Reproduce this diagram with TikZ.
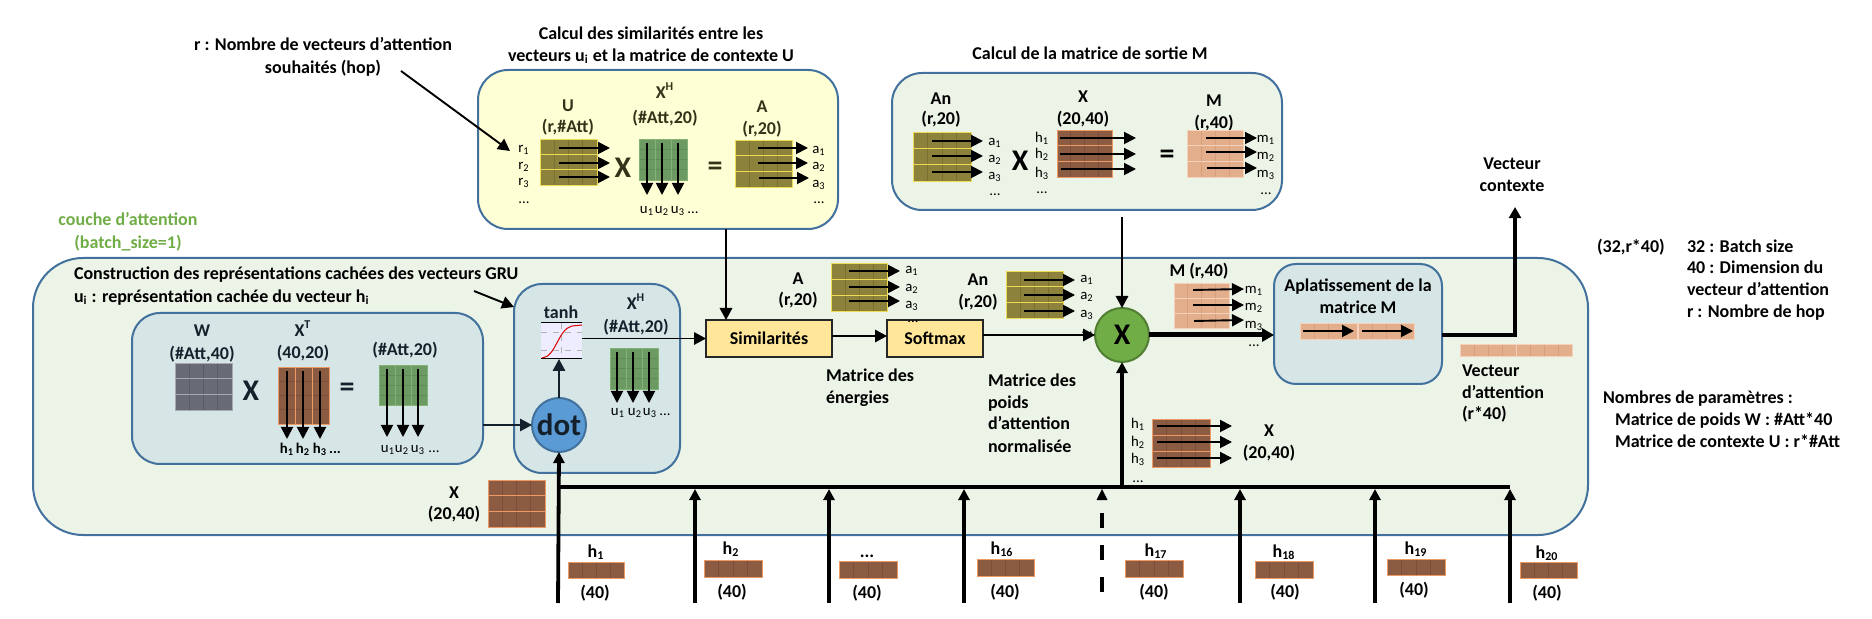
\documentclass[tikz,border=0pt]{standalone}
\usepackage{fontspec}
\setmainfont{Carlito}
\usetikzlibrary{arrows.meta,calc}
\definecolor{boxedge}{HTML}{41719C}
\definecolor{outerfill}{HTML}{ECF3E7}
\definecolor{yellowfill}{HTML}{FFFFD6}
\definecolor{tealfill}{HTML}{D6E5E5}
\definecolor{procfill}{HTML}{FFE699}
\definecolor{darkolive}{HTML}{33331A}
\definecolor{darknavy}{HTML}{14212C}
\definecolor{attgreen}{HTML}{70AD47}
\definecolor{xedge}{HTML}{507E32}
\definecolor{dotblue}{HTML}{5B9BD5}
\definecolor{gf}{HTML}{6C9A62}\definecolor{ge}{HTML}{82B374}\definecolor{gl}{HTML}{5F8C56}
\definecolor{of}{HTML}{8C823C}\definecolor{oe}{HTML}{EBDB55}\definecolor{ol}{HTML}{786F30}
\definecolor{bf}{HTML}{8C5C42}\definecolor{be}{HTML}{EE9A66}\definecolor{bl}{HTML}{7A4E38}
\definecolor{kf}{HTML}{686A76}\definecolor{ke}{HTML}{A6A8B4}\definecolor{kl}{HTML}{585A64}
\definecolor{pf}{HTML}{E3AE8C}\definecolor{pe}{HTML}{F6D2BA}\definecolor{pl}{HTML}{D89E7A}
\newcounter{txn}\newcounter{arn}
\tikzset{
  txt/.style={inner sep=0pt,outer sep=0pt,yshift=-1.3pt,font=\fontsize{9}{11}\selectfont\bfseries,text height=5.6pt,text depth=1.6pt},
  small/.style={yshift=.5pt,font=\fontsize{7.4}{9}\selectfont},
  smallb/.style={yshift=.5pt,font=\fontsize{7.4}{9}\selectfont\bfseries},
  big/.style={font=\fontsize{15}{17}\selectfont\bfseries,text height=9.5pt,text depth=0pt},
  roundbox/.style={draw=boxedge,line width=1pt,inner sep=0pt,outer sep=0pt},
  proc/.style={draw=black!85,fill=procfill,line width=.9pt,inner sep=0pt,outer sep=0pt,font=\fontsize{9}{11}\selectfont\bfseries},
  conn/.style={line width=.95pt,-{Triangle[length=6pt,width=6.2pt]}},
  matarrow/.style={line width=.95pt,black,-{Triangle[length=6pt,width=6pt]}},
  bus/.style={line width=1.9pt,-{Triangle[length=5.6pt,width=5.6pt]}},
  busline/.style={line width=1.9pt},
}
\newcommand\tx[4][]{\stepcounter{txn}\node[txt,#1] (t\arabic{txn}) at (#2,#3) {#4};}
\newcommand\txl[4][]{\stepcounter{txn}\node[txt,anchor=west,#1] (t\arabic{txn}) at (#2,#3) {#4};}
\newcommand\rbox[7]{\pgfmathsetmacro\bw{(#4-#2)*.5}\pgfmathsetmacro\bh{(#5-#3)*.5}%
  \node[roundbox,fill=#6,rounded corners=#7,minimum width=\bw pt,minimum height=\bh pt] (#1) at ({(#2+#4)/2},{(#3+#5)/2}) {};}
\newcommand\gridH[7][4]{%
  \pgfmathsetmacro\rh{(#5-#3)/#6}%
  \foreach \ri in {1,...,#6}{%
    \pgfmathsetmacro\ya{#3+(\ri-1)*\rh}\pgfmathsetmacro\yb{#3+\ri*\rh}%
    \fill[#7f] (#2,\ya) rectangle (#4,\yb);
    \foreach \ci in {1,2,3}{%
      \pgfmathsetmacro\xc{#2+(#4-#2)*(\ci/#1)}%
      \draw[#7l,line width=.4pt] (\xc,\ya) -- (\xc,\yb);}
    \draw[#7e,line width=.4pt] (#2,\ya) rectangle (#4,\yb);
  }}
\newcommand\gridV[6]{%
  \pgfmathsetmacro\cw{(#3-#1)/#5}%
  \foreach \ci in {1,...,#5}{%
    \pgfmathsetmacro\xa{#1+(\ci-1)*\cw}\pgfmathsetmacro\xb{#1+\ci*\cw}%
    \fill[#6f] (\xa,#2) rectangle (\xb,#4);
    \foreach \ri in {1,2,3}{%
      \pgfmathsetmacro\yc{#2+(#4-#2)*(\ri/4)}%
      \draw[#6l,line width=.4pt] (\xa,\yc) -- (\xb,\yc);}
    \draw[#6e,line width=.4pt] (\xa,#2) rectangle (\xb,#4);
  }}
\newcommand\ar[4]{\stepcounter{arn}\coordinate (as\arabic{arn}) at (#1,#2);\coordinate (ae\arabic{arn}) at (#3,#4);\draw[matarrow] (as\arabic{arn}) -- (ae\arabic{arn});}
\begin{document}
\begin{tikzpicture}[x=.5pt,y=-.5pt]
\useasboundingbox (0,0) rectangle (1872,619);
% containers
\rbox{outer}{33}{258}{1588}{535}{outerfill}{25pt}
\rbox{yellow}{478}{70}{838}{229}{yellowfill}{15pt}
\rbox{gtop}{892}{73}{1282}{210}{outerfill}{15pt}
\rbox{wbox}{132}{313}{483}{464}{tealfill}{14pt}
\rbox{dotbox}{514}{284}{680}{473}{tealfill}{14pt}
\rbox{aplat}{1274}{264}{1442}{384}{tealfill}{11pt}
% headings
\tx{651}{33}{Calcul des similarités entre les}
\tx{651}{55}{vecteurs u\textsubscript{i} et la matrice de contexte U}
\tx{1090}{53}{Calcul de la matrice de sortie M}
\tx{323}{44}{r : Nombre de vecteurs d’attention}
\tx{323}{67}{souhaités (hop)}
\tx[text=attgreen]{128}{219}{couche d’attention}
\tx[text=attgreen]{128}{242}{(batch\_size=1)}
\txl{74}{273}{Construction des représentations cachées des vecteurs GRU}
\txl{74}{296}{u\textsubscript{i} : représentation cachée du vecteur h\textsubscript{i}}
% free arrows
\coordinate (hopS) at (401,71);\coordinate (hopE) at (510,151);
\draw[conn] (hopS) -- (hopE);
\coordinate (gruS) at (474,291);\coordinate (gruE) at (514,307);
\draw[conn] (gruS) -- (gruE);
% yellow box
\tx[text=darkolive]{568}{105}{U}
\tx[text=darkolive]{568}{126}{(r,\#Att)}
\tx[text=darkolive]{665}{92}{X\textsuperscript{H}}
\tx[text=darkolive]{665}{117}{(\#Att,20)}
\tx[text=darkolive]{762}{106}{A}
\tx[text=darkolive]{762}{128}{(r,20)}
\tx[big,text=darkolive]{623}{165}{X}
\tx[big,text=darkolive]{715}{163}{=}
\gridH{540}{139}{597}{185}{3}{o}
\ar{559}{148}{610}{148}\ar{559}{163}{610}{163}\ar{559}{177}{610}{177}
\tx[small]{524}{147}{r\textsubscript{1}}\tx[small]{524}{164}{r\textsubscript{2}}\tx[small]{524}{180}{r\textsubscript{3}}\tx[small]{524}{198}{...}
\gridV{639}{139}{687}{180}{3}{g}
\ar{647}{143}{647}{195}\ar{662}{143}{662}{195}\ar{678}{143}{678}{195}
\tx[small]{647}{208}{u\textsubscript{1}}\tx[small]{662}{208}{u\textsubscript{2}}\tx[small]{678}{208}{u\textsubscript{3}}\tx[small]{693}{208}{...}
\gridH{735}{140}{792}{187}{3}{o}
\ar{758}{148}{808}{148}\ar{758}{163}{808}{163}\ar{759}{178}{809}{178}
\tx[small]{819}{148}{a\textsubscript{1}}\tx[small]{819}{164}{a\textsubscript{2}}\tx[small]{819}{182}{a\textsubscript{3}}\tx[small]{819}{198}{...}
% top green box
\tx{941}{98}{An}\tx{941}{118}{(r,20)}
\gridH{913}{132}{971}{181}{3}{o}
\ar{932}{141}{983}{141}\ar{932}{156}{983}{156}\ar{932}{172}{983}{172}
\tx[small]{995}{140}{a\textsubscript{1}}\tx[small]{995}{157}{a\textsubscript{2}}\tx[small]{995}{174}{a\textsubscript{3}}\tx[small]{995}{190}{...}
\tx[big]{1020}{158}{X}
\tx[small]{1042}{137}{h\textsubscript{1}}\tx[small]{1042}{153}{h\textsubscript{2}}\tx[small]{1042}{172}{h\textsubscript{3}}\tx[small]{1042}{188}{...}
\tx{1083}{96}{X}\tx{1083}{118}{(20,40)}
\gridH{1057}{130}{1112}{177}{3}{b}
\ar{1060}{138}{1136}{138}\ar{1060}{154}{1136}{154}\ar{1061}{169}{1136}{169}
\tx[big]{1167}{151}{=}
\tx{1214}{100}{M}\tx{1214}{122}{(r,40)}
\gridH{1187}{130}{1243}{177}{3}{p}
\ar{1206}{138}{1257}{138}\ar{1206}{152}{1257}{152}\ar{1207}{168}{1257}{168}
\tx[small]{1266}{137}{m\textsubscript{1}}\tx[small]{1266}{154}{m\textsubscript{2}}\tx[small]{1266}{172}{m\textsubscript{3}}\tx[small]{1266}{189}{...}
% W box
\tx[text=darknavy]{202}{330}{W}\tx[text=darknavy]{202}{353}{(\#Att,40)}
\gridH{175}{363}{232}{410}{3}{k}
\tx[big,text=darknavy]{251}{388}{X}
\tx[text=darknavy]{303}{330}{X\textsuperscript{T}}\tx[text=darknavy]{303}{352}{(40,20)}
\gridV{278}{367}{329}{424}{3}{b}
\ar{287}{371}{287}{439}\ar{303}{371}{303}{439}\ar{320}{371}{320}{439}
\tx[smallb]{287}{448}{h\textsubscript{1}}\tx[smallb]{303}{448}{h\textsubscript{2}}\tx[smallb]{320}{448}{h\textsubscript{3}}\tx[smallb]{335}{448}{...}
\tx[big,text=darknavy]{347}{384}{=}
\tx[text=darknavy]{405}{349}{(\#Att,20)}
\gridV{379}{365}{427}{405}{3}{g}
\ar{387}{369}{387}{437}\ar{403}{369}{403}{437}\ar{418}{369}{418}{437}
\tx[small]{388}{447}{u\textsubscript{1}}\tx[small]{402}{447}{u\textsubscript{2}}\tx[small]{418}{447}{u\textsubscript{3}}\tx[small]{434}{447}{...}
% dot box
\tx[text=darknavy]{561}{312}{tanh}
\node[fill=blue!7!white,minimum width=20.5pt,minimum height=18pt,inner sep=0pt,outer sep=0pt] (tanhplot) at (561.5,341) {};
\draw[black,line width=.5pt] (tanhplot.north west) -- (tanhplot.north east) (tanhplot.south west) -- (tanhplot.south east);
\draw[gray!60,line width=.3pt,dashed] (541,332) -- (582,332) (541,350) -- (582,350) (561,323) -- (561,359);
\draw[red!85!black,line width=.5pt] (542,358) .. controls (556,357) and (558,329) .. (572,326) -- (582,325);
\node[circle,fill=dotblue,draw=boxedge,line width=1pt,minimum size=27pt,inner sep=0pt,outer sep=0pt,text=darknavy,font=\fontsize{15.5}{16}\selectfont\bfseries] (dot) at (559,425) {dot};
\node[circle,fill=attgreen,draw=xedge,line width=1pt,minimum size=27pt,inner sep=0pt,outer sep=0pt,font=\fontsize{15}{16}\selectfont\bfseries] (xc) at (1122,335) {X};
\draw[conn,darknavy] (wbox.east |- dot) -- (dot.west);
\draw[conn,darknavy] (dot.north) -- (dot.north |- tanhplot.south);
\tx[text=darknavy]{636}{303}{X\textsuperscript{H}}\tx[text=darknavy]{636}{326}{(\#Att,20)}
\gridV{610}{348}{658}{389}{3}{g}
\ar{617}{352}{617}{403}\ar{633}{352}{633}{403}\ar{649}{352}{649}{403}
\tx[small]{618}{410}{u\textsubscript{1}}\tx[small]{635}{410}{u\textsubscript{2}}\tx[small]{650}{410}{u\textsubscript{3}}\tx[small]{665}{410}{...}
% pipeline
\node[proc,minimum width=63pt,minimum height=18.5pt] (sim) at (769,338.5) {Similarités};
\node[proc,minimum width=48pt,minimum height=18.5pt] (soft) at (935,338.5) {Softmax};
\coordinate (simN) at (726,320);
\coordinate (ys) at (726,229);
\draw[conn] (ys) -- (simN);
\draw[conn] (tanhplot.east |- sim.west) -- (sim.west);
\coordinate (sy) at (0,336);
\draw[conn] (sim.east |- sy) -- (soft.west |- sy);
\draw[conn] (soft.east |- xc) -- (xc.west);
\coordinate (gtS) at (1122,217);
\draw[conn] (gtS) -- (xc.north);
\tx{798}{278}{A}\tx{798}{299}{(r,20)}
\gridH{831}{263}{887}{311}{3}{o}
\ar{849}{271}{900}{271}\ar{849}{287}{900}{287}\ar{849}{301}{900}{301}
\tx[small]{912}{268}{a\textsubscript{1}}\tx[small]{912}{286}{a\textsubscript{2}}\tx[small]{912}{303}{a\textsubscript{3}}\tx[small]{913}{317}{...}
\tx{978}{279}{An}\tx{978}{301}{(r,20)}
\gridH{1006}{271}{1063}{318}{3}{o}
\ar{1024}{280}{1075}{280}\ar{1024}{295}{1075}{295}\ar{1024}{311}{1075}{311}
\tx[small]{1087}{277}{a\textsubscript{1}}\tx[small]{1087}{294}{a\textsubscript{2}}\tx[small]{1087}{312}{a\textsubscript{3}}\tx[small]{1087}{328}{...}
\txl{826}{375}{Matrice des}\txl{826}{397}{énergies}
\txl{988}{380}{Matrice des}\txl{988}{402}{poids}\txl{988}{423}{d’attention}\txl{988}{446}{normalisée}
\tx{1199}{270}{M (r,40)}
\gridH{1174}{283}{1229}{328}{3}{p}
\ar{1193}{290}{1244}{289}\ar{1193}{305}{1244}{305}\ar{1194}{321}{1244}{320}
\tx[small]{1254}{288}{m\textsubscript{1}}\tx[small]{1254}{305}{m\textsubscript{2}}\tx[small]{1254}{323}{m\textsubscript{3}}\tx[small]{1254}{341}{...}
\draw[line width=2.5pt,-{Triangle[length=6pt,width=6.5pt]}] (xc.east) -- (aplat.west |- xc);
% aplatissement
\tx{1358}{285}{Aplatissement de la}\tx{1358}{307}{matrice M}
\gridH[4]{1300}{323}{1357}{339}{1}{p}
\gridH[4]{1358}{323}{1414}{339}{1}{p}
\ar{1303}{331}{1354}{331}\ar{1362}{331}{1413}{331}
\coordinate (ctxTip) at (1515,207);
\draw[line width=2pt,-{Triangle[length=5.6pt,width=6pt]}] (aplat.east |- xc) -| (ctxTip);
\tx{1512}{163}{Vecteur}\tx{1512}{185}{contexte}
\gridH[4]{1460}{344}{1516}{356}{1}{p}
\gridH[4]{1516}{344}{1572}{356}{1}{p}
\txl{1462}{370}{Vecteur}\txl{1462}{392}{d’attention}\txl{1462}{413}{(r*40)}
\txl{1597}{246}{(32,r*40)}
\txl{1687}{246}{32 : Batch size}\txl{1687}{267}{40 : Dimension du}\txl{1687}{289}{vecteur d’attention}\txl{1687}{311}{r : Nombre de hop}
\txl{1603}{397}{Nombres de paramètres :}\txl{1615}{419}{Matrice de poids W : \#Att*40}\txl{1615}{441}{Matrice de contexte U : r*\#Att}
% bus and inputs
\tx{454}{492}{X}\tx{454}{513}{(20,40)}
\gridH{488}{480}{545}{527}{3}{b}
\coordinate (busL) at (558,487);\coordinate (busR) at (1510,487);
\draw[busline] (busL) -- (busR);
\coordinate (in1) at (558,603);
\draw[bus] (in1) -- (dot.south);
\foreach \n/\xx in {2/695,3/829,4/964,6/1240,7/1375,8/1510}{
  \coordinate (in\n) at (\xx,603);\coordinate (tip\n) at (\xx,489);
  \draw[bus] (in\n) -- (tip\n);}
\coordinate (in5) at (1102,603);\coordinate (dmid) at (1102,513);\coordinate (tip5) at (1102,489);
\draw[busline,dash pattern=on 7.5pt off 8.5pt] (dmid) -- (in5);
\fill (tip5) -- (1107.5,500) -- (1096.5,500) -- cycle;
\coordinate (busJ) at (1122,487);
\draw[bus] (busJ) -- (xc.south);
\tx[small]{1138}{423}{h\textsubscript{1}}\tx[small]{1138}{441}{h\textsubscript{2}}\tx[small]{1138}{458}{h\textsubscript{3}}\tx[small]{1138}{477}{...}
\gridH{1152}{419}{1210}{467}{3}{b}
\ar{1157}{426}{1232}{426}\ar{1157}{442}{1232}{442}\ar{1157}{458}{1232}{458}
\tx{1269}{430}{X}\tx{1269}{452}{(20,40)}
\foreach \lx/\ly/\lab/\ax/\bx/\my/\ny/\px/\py in {
 596/551/1/568/624/562/578/595/592,
 731/548/2/704/762/560/577/732/591,
 1002/548/16/977/1034/559/576/1005/591,
 1156/550/17/1125/1183/560/577/1154/591,
 1284/551/18/1255/1313/561/578/1285/591,
 1416/548/19/1387/1445/559/575/1414/589,
 1547/552/20/1520/1577/562/578/1547/592}{
  \tx{\lx}{\ly}{h\textsubscript{\lab}}
  \gridH{\ax}{\my}{\bx}{\ny}{1}{b}
  \tx{\px}{\py}{(40)}}
\tx{867}{551}{...}
\gridH{839}{561}{897}{578}{1}{b}
\tx{867}{592}{(40)}
\end{tikzpicture}
\end{document}
